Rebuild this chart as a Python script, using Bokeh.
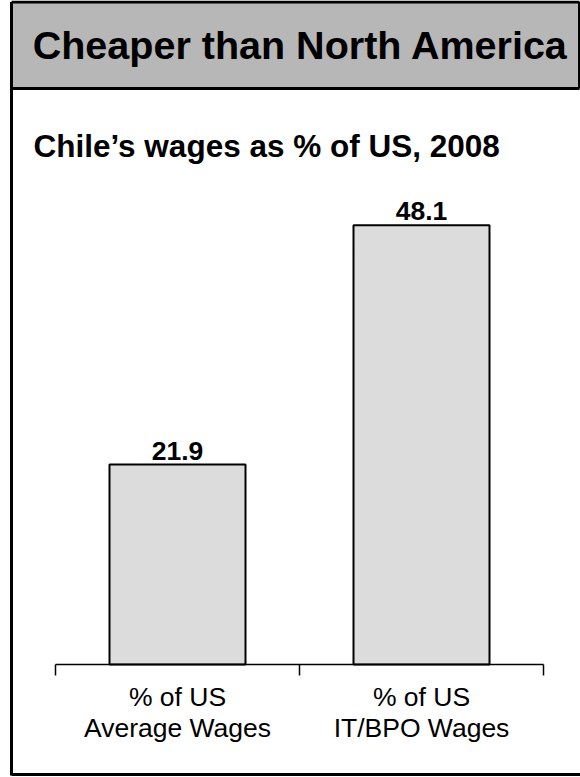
from bokeh.plotting import figure
from bokeh.models import Range1d
from bokeh.core.properties import value
from bokeh.embed import file_html
from bokeh.resources import INLINE

# ---- data ----
categories = ["% of US\nAverage Wages", "% of US\nIT/BPO Wages"]
wage_share = [21.9, 48.1]
value_labels = ["21.9", "48.1"]
header_text = "Cheaper than North America"
chart_title = "Chile\u2019s wages as % of US, 2008"

# ---- layout (pixels) ----
W, H = 580, 777
AXIS_LEFT, AXIS_RIGHT = 55, 543       # axis extent on screen
AXIS_Y = 664                          # baseline of the bars (from top)
PX_PER_UNIT = 9.13                    # vertical pixels per percentage point
n = len(categories)
slot_px = (AXIS_RIGHT - AXIS_LEFT) / n

FONT = value("Liberation Sans")

x_start = -AXIS_LEFT / slot_px
x_end = n + (W - AXIS_RIGHT) / slot_px
y_start = -(H - AXIS_Y) / PX_PER_UNIT
y_end = AXIS_Y / PX_PER_UNIT


def sx(px):
    """screen x (px from left) -> data x"""
    return x_start + px / slot_px


def sy(py):
    """screen y (px from top) -> data y"""
    return y_end - py / PX_PER_UNIT


p = figure(width=W, height=H, output_backend="svg", toolbar_location=None,
           x_range=Range1d(x_start, x_end), y_range=Range1d(y_start, y_end),
           min_border=0, outline_line_color=None)
p.axis.visible = False
p.grid.visible = False
p.background_fill_color = "white"
p.border_fill_color = "white"

# header band
p.quad(left=[sx(11)], right=[sx(579)], top=[sy(1.5)], bottom=[sy(88)],
       fill_color="#b7b7b7", line_color=None)
# frame lines
p.segment(x0=[sx(11), sx(11), sx(11), sx(579), sx(11)],
          y0=[sy(1.5), sy(1.5), sy(88), sy(1.5), sy(774)],
          x1=[sx(579), sx(11), sx(579), sx(579), sx(580)],
          y1=[sy(1.5), sy(775), sy(88), sy(88), sy(774)],
          line_color="black", line_width=3)

p.text(x=[sx(300)], y=[sy(44.5)], text=[header_text], text_font=FONT,
       text_font_style="bold", text_font_size="39.5px", text_align="center",
       text_baseline="middle", text_color="black")
p.text(x=[sx(33)], y=[sy(145)], text=[chart_title], text_font=FONT,
       text_font_style="bold", text_font_size="31.5px", text_align="left",
       text_baseline="middle", text_color="black")

# bars
centers = [i + 0.5 for i in range(n)]
bar_w = 136 / slot_px
p.vbar(x=centers, top=wage_share, bottom=0, width=bar_w,
       fill_color="#dcdcdc", line_color="black", line_width=2)
p.text(x=centers, y=wage_share, text=value_labels, text_font=FONT,
       text_font_style="bold", text_font_size="26.5px", text_align="center",
       text_baseline="bottom", y_offset=-5, text_color="black")

# category axis: line plus boundary ticks pointing down
tick_len = 11 / PX_PER_UNIT
p.segment(x0=[0], y0=[0], x1=[n], y1=[0], line_color="black", line_width=1.5)
bounds = list(range(n + 1))
p.segment(x0=bounds, y0=[0] * len(bounds), x1=bounds,
          y1=[-tick_len] * len(bounds), line_color="black", line_width=1.5)
p.text(x=centers, y=[0] * n, text=categories, text_font=FONT,
       text_font_size="26.5px", text_align="center", text_baseline="top",
       y_offset=17, text_line_height=1.05, text_color="black")

open("out.html", "w").write(file_html(p, INLINE))
